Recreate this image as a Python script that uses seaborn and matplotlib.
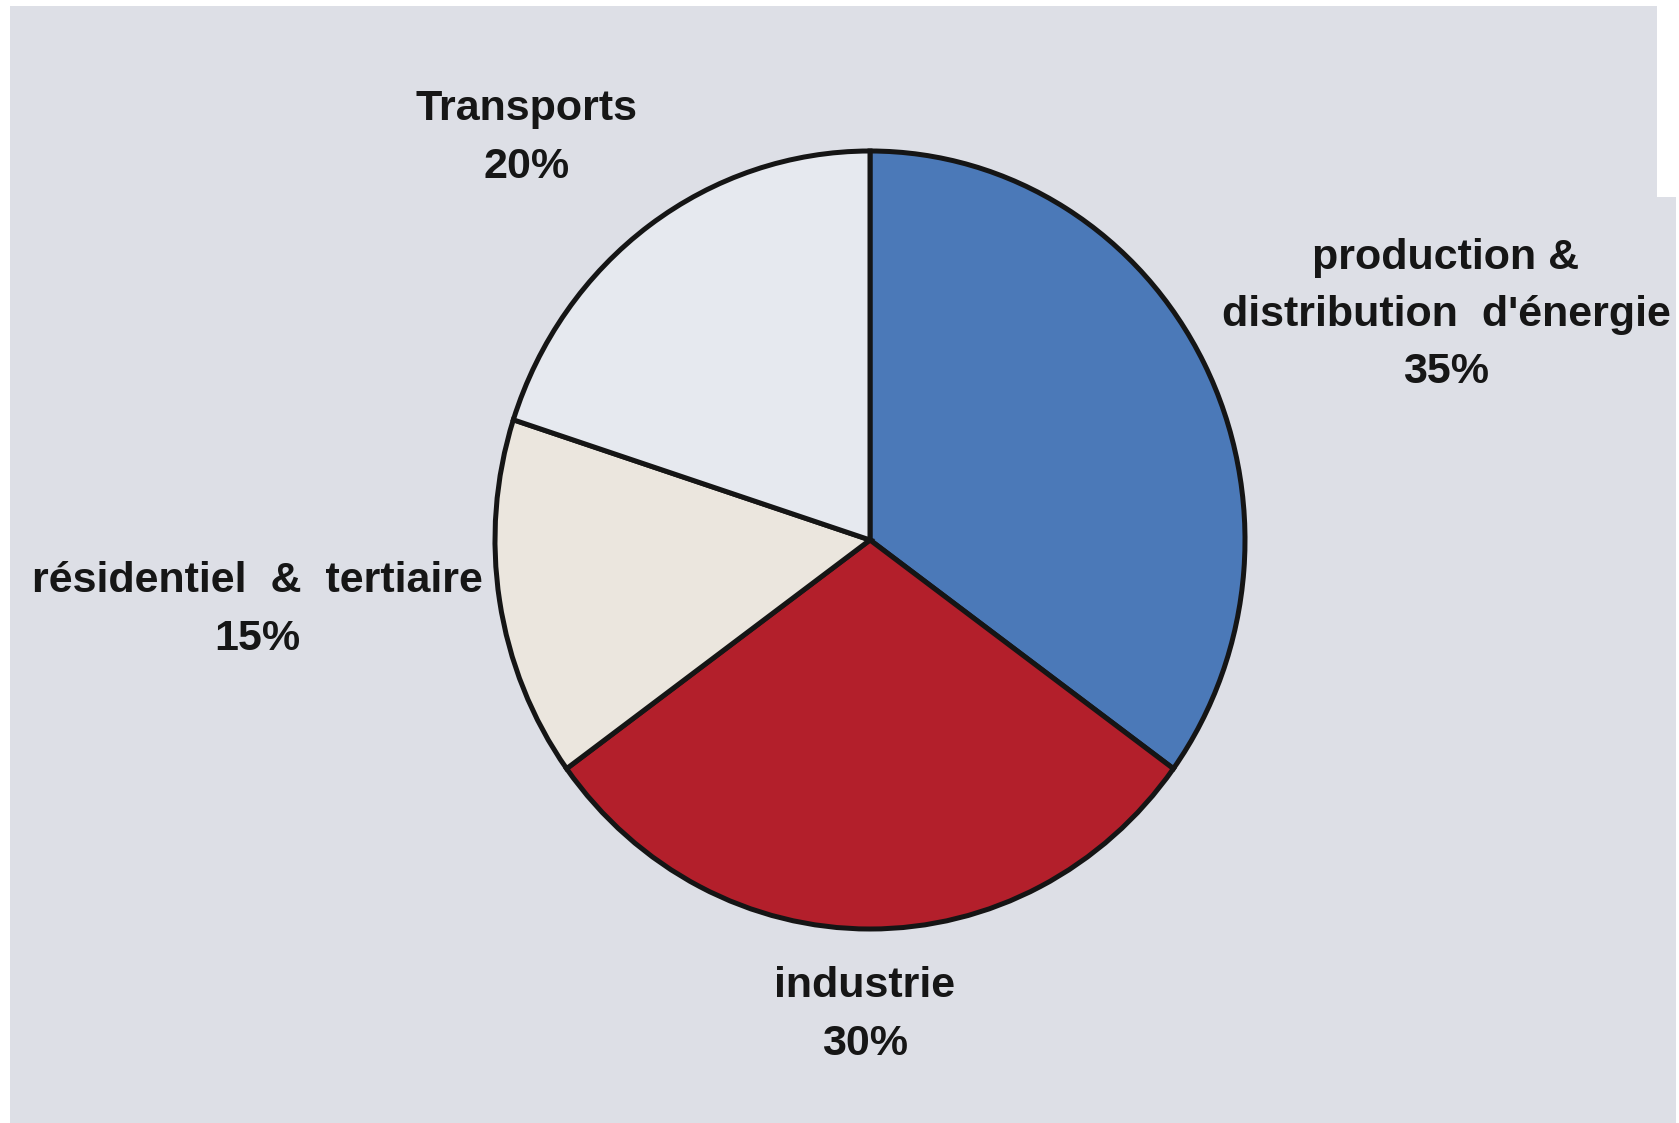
import matplotlib
matplotlib.use("Agg")
import matplotlib.pyplot as plt
import seaborn as sns
from matplotlib.patches import Polygon

# Sector shares of emissions
categories = ["production &\ndistribution  d'énergie", "industrie",
              "résidentiel  &  tertiaire", "Transports"]
shares = [35, 30, 15, 20]
colors = ["#4b79b8", "#b31f2b", "#ebe6de", "#e6e9ef"]

# label block centres in pixels (x, y from top)
label_pos = [(1446, 315), (865, 1015), (257, 610), (527, 138)]

sns.set_theme(style="white")
plt.rcParams["font.family"] = ["Liberation Sans", "DejaVu Sans"]

W, H = 1679, 1123
fig = plt.figure(figsize=(W / 100, H / 100), dpi=100, facecolor="white")

# paper sheet behind everything
paper_px = [(10, 6), (1657, 6), (1657, 197), (1676, 197), (1676, 1123), (10, 1123)]
fig.patches.append(Polygon([(x / W, 1 - y / H) for x, y in paper_px],
                           closed=True, transform=fig.transFigure,
                           facecolor="#dddfe6", edgecolor="none", zorder=-10))

ax = fig.add_axes([0, 0, 1, 1])
ax.set_zorder(5)
ax.patch.set_visible(False)

radius = 375
yscale = radius / 389.0  # slightly taller than wide
cx, cy = 870, (H - 540) * yscale

ax.pie(shares, colors=colors, startangle=90, counterclock=False,
       center=(cx, cy), radius=radius, frame=False,
       wedgeprops=dict(edgecolor="#151515", linewidth=3.6))
ax.set_xlim(0, W)
ax.set_ylim(0, H * yscale)
ax.set_aspect("auto")
ax.axis("off")

for name, val, (px, py) in zip(categories, shares, label_pos):
    fig.text(px / W, 1 - py / H, f"{name}\n{val}%", ha="center", va="center",
             fontsize=31, fontweight="bold", color="#161616",
             linespacing=1.55, multialignment="center", zorder=10)

fig.savefig("out.png", dpi=100, facecolor=fig.get_facecolor())
